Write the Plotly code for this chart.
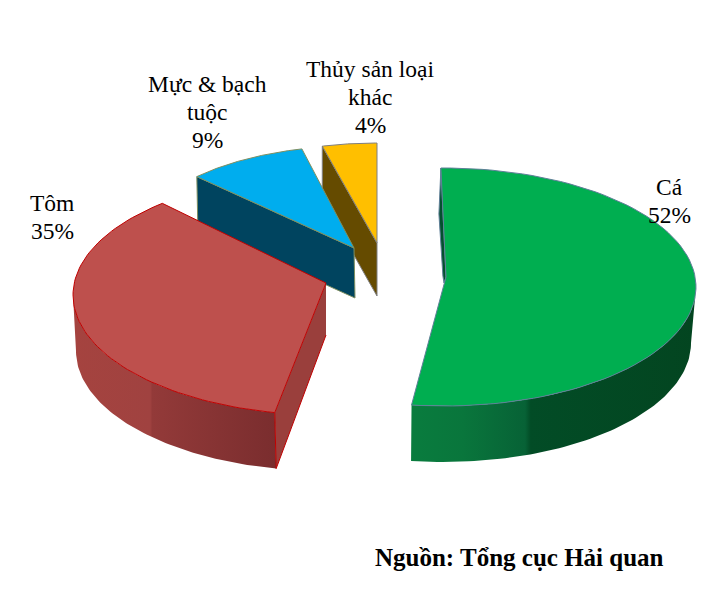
import math
import plotly.graph_objects as go

# ---- chart values ----
categories = ["Cá", "Tôm", "Mực & bạch|tuộc", "Thủy sản loại|khác"]
shares = [52, 35, 9, 4]
source_note = "Nguồn: Tổng cục Hải quan"

# ---- projected 3-D geometry of each exploded slice (style, not data) ----
geom = {
    "Cá":  dict(apex=(446, 277), c=(444, 287), rx=252, ry=119, depth=57, rx_b=248, cb=(443, 287), d0=-0.7, d1=0.2),
    "Tôm": dict(apex=(326, 283), c=(325, 295), rx=252, ry=120, depth=56, rx_b=250, cb=(326, 295), d0=4.3, d1=6.6),
    "Mực": dict(apex=(354, 248), c=(354, 248), rx=220, ry=102, depth=50, d0=1.2, d1=0.7),
    "Thủy": dict(apex=(377, 243), c=(377, 243), rx=220, ry=100, depth=53, d0=0, d1=0),
}
keys = ["Cá", "Tôm", "Mực", "Thủy"]
top_col = ["#00AE50", "#BE504D", "#00ADEE", "#FFBF00"]
edge_col = ["#5F7F98", "#C00000", "#7F8F60", "#7F7F80"]

# cumulative angles (degrees clockwise from 12 o'clock), derived from the shares
total = sum(shares)
bounds = []
acc = 0
for s in shares:
    bounds.append((acc * 360 / total, (acc + s) * 360 / total))
    acc += s


def pt(c, rx, ry, t, dy=0):
    r = math.radians(t)
    return c[0] + rx * math.sin(r), c[1] - ry * math.cos(r) + dy


def arc(c, rx, ry, t0, t1, dy=0, n=80):
    return [pt(c, rx, ry, t0 + (t1 - t0) * i / n, dy) for i in range(n + 1)]


def poly(points, fill=None, line=None, width=1, gradient=None):
    xs = [p[0] for p in points] + [points[0][0]]
    ys = [p[1] for p in points] + [points[0][1]]
    kw = dict(x=xs, y=ys, mode="lines", fill="toself", hoverinfo="skip", showlegend=False,
              line=dict(color=line or "rgba(0,0,0,0)", width=width if line else 0))
    if gradient:
        kw["fillgradient"] = dict(type="horizontal", colorscale=gradient)
    else:
        kw["fillcolor"] = fill
    return go.Scatter(**kw)


def angles(i):
    g = geom[keys[i]]
    return bounds[i][0] + g["d0"], bounds[i][1] + g["d1"]


fig = go.Figure()

# yellow slice: cut wall then top
g = geom["Thủy"]; t0, t1 = angles(3)
p0 = pt(g["c"], g["rx"], g["ry"], t0)
fig.add_trace(poly([p0, (p0[0], p0[1] + g["depth"]), (g["apex"][0], g["apex"][1] + g["depth"]), g["apex"]],
                   fill="#654B00", line=edge_col[3]))
fig.add_trace(poly([g["apex"]] + arc(g["c"], g["rx"], g["ry"], t0, t1), fill=top_col[3], line=edge_col[3]))

# blue slice
g = geom["Mực"]; t0, t1 = angles(2)
p0 = pt(g["c"], g["rx"], g["ry"], t0)
fig.add_trace(poly([p0, (p0[0] + 1, p0[1] + g["depth"]), (g["apex"][0] + 1, g["apex"][1] + g["depth"]), g["apex"]],
                   fill="#00445F", line=edge_col[2]))
fig.add_trace(poly([g["apex"]] + arc(g["c"], g["rx"], g["ry"], t0, t1), fill=top_col[2], line=edge_col[2]))

# red slice
g = geom["Tôm"]; t0, t1 = angles(1)
outer = arc(g["c"], g["rx"], g["ry"], 270, t0)
lower = arc(g["cb"], g["rx_b"], g["ry"], t0, 270, dy=g["depth"])
fig.add_trace(poly(outer + lower,
                   gradient=[[0, "#A5433F"], [0.38, "#A04240"], [0.39, "#933A39"], [1, "#7A2D2E"]]))
p0 = pt(g["c"], g["rx"], g["ry"], t0)
p0b = pt(g["cb"], g["rx_b"], g["ry"], t0, g["depth"])
fig.add_trace(poly([p0, p0b, (g["apex"][0], g["apex"][1] + 52), g["apex"]], fill="#9A3F3C"))
fig.add_trace(go.Scatter(x=[p0[0], p0b[0], g["apex"][0]], y=[p0[1], p0b[1], g["apex"][1] + 52], mode="lines",
                         line=dict(color="#C00000", width=1), hoverinfo="skip", showlegend=False))
fig.add_trace(poly([g["apex"]] + arc(g["c"], g["rx"], g["ry"], t0, t1), fill=top_col[1], line=edge_col[1]))

# green slice
g = geom["Cá"]; t0, t1 = angles(0)
outer = arc(g["c"], g["rx"], g["ry"], 90, t1)
lower = arc(g["cb"], g["rx_b"], g["ry"], t1, 90, dy=g["depth"] - 1)
fig.add_trace(poly(outer + lower,
                   gradient=[[0, "#097C3E"], [0.18, "#09763C"], [0.40, "#076236"], [0.42, "#024C26"], [1, "#034520"]]))
p_start = pt(g["c"], g["rx"], g["ry"], t0)
fig.add_trace(poly([p_start, (p_start[0] - 2, p_start[1] + 46), (p_start[0] + 2, p_start[1] + 108), (g["apex"][0] - 2, g["apex"][1] + 6),
                    g["apex"]], fill="#03512E", line=edge_col[0]))
fig.add_trace(poly([g["apex"]] + arc(g["c"], g["rx"], g["ry"], t0, t1), fill=top_col[0], line=edge_col[0]))

# labels: one annotation per text line so the line pitch matches; values come from the shares
label_pos = [(669, 187), (52, 203), (207, 84), (370, 69)]
line_pitch = 27.8
annotations = []
for name, val, (lx, ly) in zip(categories, shares, label_pos):
    for j, txt in enumerate(name.split("|") + [f"{val}%"]):
        annotations.append(dict(x=lx, y=ly + j * line_pitch, xref="x", yref="y", text=txt, showarrow=False,
                                xanchor="center", yanchor="middle",
                                font=dict(family="Liberation Serif", size=23.5, color="#000000")))
annotations.append(dict(x=519, y=557, xref="x", yref="y", text=f"<b>{source_note}</b>", showarrow=False,
                        xanchor="center", yanchor="middle",
                        font=dict(family="Liberation Serif", size=25, color="#000000")))

fig.update_layout(
    width=717, height=616, margin=dict(l=0, r=0, t=0, b=0),
    paper_bgcolor="white", plot_bgcolor="white", showlegend=False,
    xaxis=dict(range=[0, 717], visible=False, fixedrange=True),
    yaxis=dict(range=[616, 0], visible=False, fixedrange=True),
    annotations=annotations,
)
fig.write_html("out.html", config={"displayModeBar": False},
               post_script="document.body.style.margin='0';document.body.style.overflow='hidden';")
